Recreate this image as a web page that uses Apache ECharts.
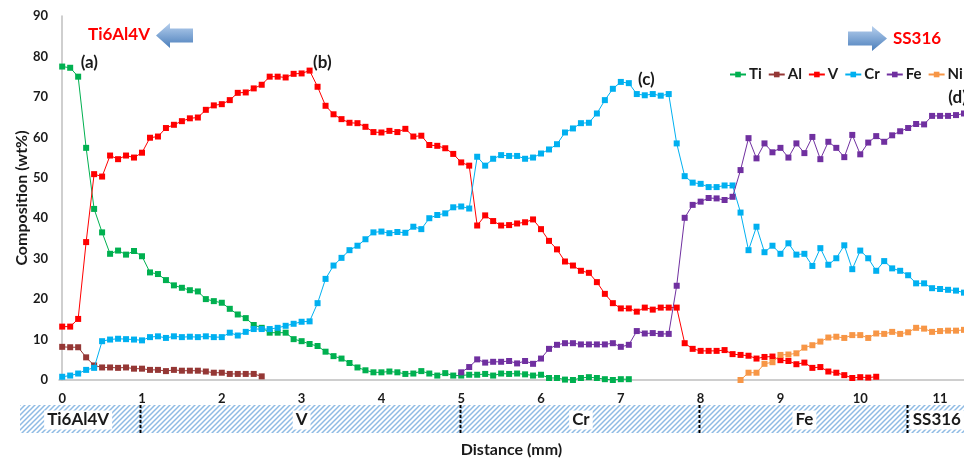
<!DOCTYPE html>
<html>
<head>
<meta charset="utf-8">
<script src="https://cdn.jsdelivr.net/npm/echarts@6/dist/echarts.min.js"></script>
<style>
  html, body { margin: 0; padding: 0; background: #ffffff; }
  #chart { width: 964px; height: 460px; }
</style>
</head>
<body>
<div id="chart"></div>
<script>
// Measurement positions along the line scan (mm)
const distance = [
  0.0,0.1,0.2,0.3,0.4,0.5,0.6,0.7,0.8,0.9,
  1.0,1.1,1.2,1.3,1.4,1.5,1.6,1.7,1.8,1.9,
  2.0,2.1,2.2,2.3,2.4,2.5,2.6,2.7,2.8,2.9,
  3.0,3.1,3.2,3.3,3.4,3.5,3.6,3.7,3.8,3.9,
  4.0,4.1,4.2,4.3,4.4,4.5,4.6,4.7,4.8,4.9,
  5.0,5.1,5.2,5.3,5.4,5.5,5.6,5.7,5.8,5.9,
  6.0,6.1,6.2,6.3,6.4,6.5,6.6,6.7,6.8,6.9,
  7.0,7.1,7.2,7.3,7.4,7.5,7.6,7.7,7.8,7.9,
  8.0,8.1,8.2,8.3,8.4,8.5,8.6,8.7,8.8,8.9,
  9.0,9.1,9.2,9.3,9.4,9.5,9.6,9.7,9.8,9.9,
  10.0,10.1,10.2,10.3,10.4,10.5,10.6,10.7,10.8,10.9,
  11.0,11.1,11.2,11.3
];

// Composition (wt%) per element; each list starts at the given index of `distance`
const tiStart = 0;
const ti = [
  77.5,77.2,75.0,57.4,42.3,36.5,31.2,32.0,31.0,31.9,
  30.6,26.6,26.2,24.7,23.4,22.8,22.2,21.9,20.0,19.5,
  19.1,17.6,16.2,15.3,13.6,12.9,11.7,11.7,11.7,10.1,
  9.6,8.9,8.4,7.0,5.9,5.3,4.2,3.1,2.4,1.9,
  1.9,2.1,1.9,1.5,1.6,2.2,1.6,1.1,1.7,1.1,
  1.1,1.3,1.3,1.5,1.1,1.6,1.5,1.6,1.4,1.1,
  1.3,0.5,0.5,0.1,0.0,0.5,0.7,0.5,0.2,0.0,
  0.2,0.2
];

const alStart = 0;
const al = [
  8.2,8.1,8.1,5.6,3.6,3.1,3.1,3.0,3.1,2.8,
  2.8,2.5,2.5,2.2,2.5,2.3,2.3,2.3,2.1,1.8,
  1.8,1.5,1.5,1.5,1.5,0.9
];

const vStart = 0;
const v = [
  13.2,13.2,15.1,34.1,50.9,50.3,55.5,54.6,55.5,55.0,
  56.2,59.9,60.2,62.3,63.1,64.0,64.7,64.9,66.8,67.9,
  68.2,69.2,71.0,71.1,72.1,73.0,75.0,75.0,74.8,75.7,
  75.8,76.5,72.5,67.8,65.7,64.5,63.6,63.5,62.6,61.3,
  61.2,61.6,61.3,62.1,60.2,60.4,58.1,57.9,57.3,55.9,
  53.8,53.0,38.2,40.7,39.3,38.2,38.3,38.7,39.0,39.7,
  37.3,34.4,32.3,29.3,28.3,27.0,26.5,24.2,21.3,19.0,
  17.7,17.7,16.9,17.9,17.4,17.9,17.9,17.9,9.1,7.7,
  7.2,7.2,7.2,7.4,6.4,6.2,6.0,5.3,5.7,5.8,
  4.9,4.7,3.9,4.3,3.0,3.2,2.1,1.8,1.2,0.5,
  0.7,0.6,0.8
];

const crStart = 0;
const cr = [
  0.8,1.1,1.6,2.5,3.0,9.6,10.0,10.2,10.1,10.0,
  9.8,10.6,10.8,10.4,10.8,10.6,10.7,10.6,10.8,10.6,
  10.6,11.7,11.0,11.9,12.6,12.6,12.6,12.9,13.4,13.9,
  14.4,14.5,19.0,25.0,28.3,30.2,32.1,33.2,34.8,36.5,
  36.7,36.3,36.6,36.4,37.9,37.3,40.0,40.8,41.2,42.7,
  42.9,42.4,55.2,53.0,54.7,55.6,55.4,55.4,54.7,55.0,
  56.0,57.0,58.3,61.2,62.2,63.5,63.6,65.9,69.2,72.0,
  73.7,73.4,70.7,70.4,70.7,70.3,70.7,58.5,50.4,48.8,
  48.5,47.7,47.7,48.1,48.1,41.4,32.1,37.9,31.6,33.2,
  31.2,33.8,31.0,31.2,28.2,32.6,28.5,30.1,33.3,27.4,
  32.0,30.1,27.0,29.4,27.6,27.0,25.9,23.9,23.9,22.7,
  22.5,22.3,22.1,21.6
];

const feStart = 50;
const fe = [
  1.9,3.2,5.1,4.3,4.5,4.5,4.7,4.1,4.7,4.0,
  5.3,7.7,8.7,9.1,9.1,8.8,8.8,8.8,8.8,9.1,
  8.2,8.7,12.1,11.5,11.6,11.4,11.4,23.3,40.1,43.3,
  44.1,45.0,44.9,44.5,45.3,51.9,59.8,54.8,58.5,56.3,
  57.4,55.0,58.5,56.1,60.1,54.6,58.9,57.4,55.1,60.6,
  55.8,58.7,60.3,58.9,60.5,61.5,62.3,63.3,63.2,65.3,
  65.3,65.3,65.5,65.9
];

const niStart = 85;
const ni = [
  0.0,1.8,1.8,4.0,4.4,
  6.2,6.3,6.6,8.0,8.6,9.5,10.5,10.7,10.4,11.1,
  11.1,10.4,11.5,11.4,11.9,11.4,11.8,12.9,12.7,11.9,
  12.1,12.2,12.2,12.4
];

const elementNames = ['Ti', 'Al', 'V', 'Cr', 'Fe', 'Ni'];
const elementValues = [ti, al, v, cr, fe, ni];
const elementStarts = [tiStart, alStart, vStart, crStart, feStart, niStart];
const elementColors = ['#00b050', '#953735', '#ff0000', '#00b0f0', '#7030a0', '#f79646'];

const xTicks = [0, 1, 2, 3, 4, 5, 6, 7, 8, 9, 10, 11];
const yTicks = [0, 10, 20, 30, 40, 50, 60, 70, 80, 90];

// Material zones along the scan, shown in the hatched strip under the axis
const zoneBoundaries = [0.98, 4.98, 7.98, 10.58];
const zoneNames = ['Ti6Al4V', 'V', 'Cr', 'Fe', 'SS316'];
const zoneLabelAt = [0.2, 3.0, 6.5, 9.3, 10.96];

// Point tags
const tagNames = ['(a)', '(b)', '(c)', '(d)'];
const tagAt = [[0.34, 78.6], [3.26, 78.6], [7.32, 74.2], [11.22, 69.8]];

const FONT = 'Lato, "Open Sans", sans-serif';
const TXT = '#1a1a1a';

const chart = echarts.init(document.getElementById('chart'), null, { renderer: 'canvas' });

function pairs(values, start) {
  return values.map((val, i) => [distance[start + i], val]);
}

const series = elementNames.map((name, k) => ({
  name: name,
  type: 'line',
  data: pairs(elementValues[k], elementStarts[k]),
  symbol: 'rect',
  symbolSize: 6,
  showAllSymbol: true,
  lineStyle: { width: 1, color: elementColors[k] },
  itemStyle: { color: elementColors[k] },
  emphasis: { disabled: true },
  animation: false,
  z: 2 + k
}));

chart.setOption({
  animation: false,
  backgroundColor: '#ffffff',
  grid: { left: 59, right: 0, top: 16, bottom: 80, containLabel: false, outerBoundsMode: 'none' },
  xAxis: {
    type: 'value',
    min: -0.04,
    max: 11.3,
    name: 'Distance (mm)',
    nameLocation: 'middle',
    nameGap: 62,
    nameMoveOverlap: false,
    nameTextStyle: { fontFamily: FONT, fontWeight: 'bold', fontSize: 16, color: TXT },
    axisLine: { show: true, lineStyle: { color: '#bfbfbf', width: 1.5 } },
    axisTick: { show: false },
    splitLine: { show: false },
    axisLabel: {
      customValues: xTicks,
      margin: 12,
      fontFamily: FONT, fontWeight: 'bold', fontSize: 13, color: TXT
    }
  },
  yAxis: {
    type: 'value',
    min: 0,
    max: 90,
    interval: 10,
    name: 'Composition (wt%)',
    nameLocation: 'middle',
    nameGap: 29,
    nameMoveOverlap: false,
    nameTextStyle: { fontFamily: FONT, fontWeight: 'bold', fontSize: 16, color: TXT },
    axisLine: { show: true, lineStyle: { color: '#bfbfbf', width: 1.5 } },
    axisTick: { show: false },
    splitLine: { show: false },
    axisLabel: {
      customValues: yTicks,
      margin: 11,
      fontFamily: FONT, fontWeight: 'bold', fontSize: 13, color: TXT
    }
  },
  legend: {
    data: elementNames,
    left: 729,
    top: 67,
    width: 320,
    padding: 0,
    itemWidth: 16,
    itemHeight: 7,
    itemGap: 6,
    textStyle: { fontFamily: FONT, fontWeight: 'bold', fontSize: 15, color: TXT, padding: [0, 0, 0, -2] }
  },
  series: series
});

// Diagonal hatch tile for the zone strip
function hatchTile() {
  const c = document.createElement('canvas');
  c.width = 5; c.height = 5;
  const g = c.getContext('2d');
  g.strokeStyle = '#8fbbe4';
  g.lineWidth = 1.5;
  g.beginPath();
  g.moveTo(-1, 6); g.lineTo(6, -1);
  g.moveTo(-4, 4); g.lineTo(4, -4);
  g.moveTo(1, 9); g.lineTo(9, 1);
  g.stroke();
  return c;
}

function px(x, y) { return chart.convertToPixel({ gridIndex: 0 }, [x, y]); }

const stripTop = 405, stripH = 28;
const graphics = [];

graphics.push({
  type: 'rect', silent: true,
  shape: { x: 20, y: stripTop, width: 944, height: stripH },
  style: { fill: { image: hatchTile(), repeat: 'repeat' } },
  z: 1
});

zoneBoundaries.forEach(b => {
  const x = Math.round(px(b, 0)[0]) + 0.5;
  graphics.push({
    type: 'line', silent: true,
    shape: { x1: x, y1: stripTop, x2: x, y2: stripTop + stripH },
    style: { stroke: '#000000', lineWidth: 2, lineDash: [3, 2] },
    z: 3
  });
});

zoneNames.forEach((name, i) => {
  graphics.push({
    type: 'text', silent: true,
    x: px(zoneLabelAt[i], 0)[0],
    y: stripTop + stripH / 2 + 1,
    style: {
      text: name, fill: TXT,
      font: 'bold 17px ' + FONT,
      align: 'center', verticalAlign: 'middle',
      backgroundColor: '#ffffff', padding: [1, 3]
    },
    z: 4
  });
});

tagNames.forEach((t, i) => {
  const p = px(tagAt[i][0], tagAt[i][1]);
  graphics.push({
    type: 'text', silent: true,
    x: p[0], y: p[1],
    style: {
      text: t, fill: TXT,
      font: 'bold 17px ' + FONT,
      align: 'center', verticalAlign: 'middle'
    },
    z: 10
  });
});

// Direction arrows toward each base metal
const arrowFill = {
  type: 'linear', x: 0, y: 0, x2: 0, y2: 1,
  colorStops: [{ offset: 0, color: '#b7d0ee' }, { offset: 1, color: '#4a7ebb' }]
};
graphics.push({
  type: 'polygon', silent: true,
  shape: { points: [[156, 35.5], [170, 23], [170, 28.5], [193, 28.5], [193, 42.5], [170, 42.5], [170, 48]] },
  style: { fill: arrowFill },
  z: 10
});
graphics.push({
  type: 'polygon', silent: true,
  shape: { points: [[848, 31.5], [872, 31.5], [872, 26], [887, 38.5], [872, 51], [872, 45.5], [848, 45.5]] },
  style: { fill: arrowFill },
  z: 10
});
graphics.push({
  type: 'text', silent: true, x: 119, y: 35,
  style: { text: 'Ti6Al4V', fill: '#ff0000', font: 'bold 17px ' + FONT, align: 'center', verticalAlign: 'middle' },
  z: 10
});
graphics.push({
  type: 'text', silent: true, x: 917, y: 39,
  style: { text: 'SS316', fill: '#ff0000', font: 'bold 17px ' + FONT, align: 'center', verticalAlign: 'middle' },
  z: 10
});

chart.setOption({ graphic: graphics });
</script>
</body>
</html>
